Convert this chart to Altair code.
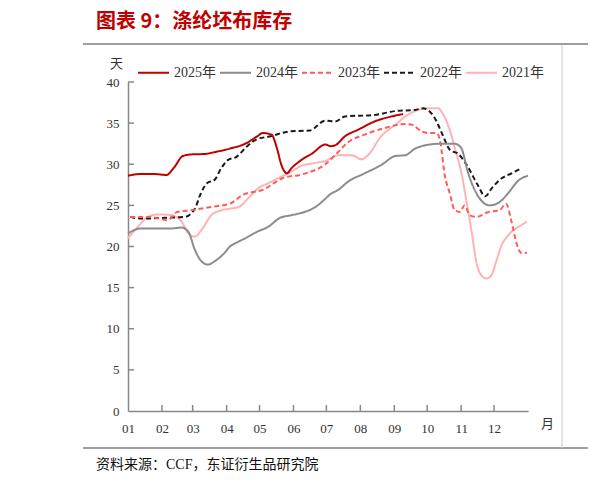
import altair as alt
import pandas as pd

# x values are day-of-year (0 = 1 Jan), y values are days of inventory
series = ["2025年", "2024年", "2023年", "2022年", "2021年"]
colors = ["#C00000", "#8C8C8C", "#FF5B5B", "#1A1A1A", "#FFB3B3"]
dashes = [[1, 0], [1, 0], [5, 3], [5, 3], [1, 0]]

month_starts = [0, 31, 59, 90, 120, 151, 181, 212, 243, 273, 304, 334]
y_ticks = [5, 10, 15, 20, 25, 30, 35, 40]

days_2025 = [0, 10, 25, 35, 42, 50, 58, 70, 80, 93, 107, 118, 123, 131, 136, 140, 145, 149, 158, 168,
             180, 185, 189, 198, 210, 225, 240, 251]
vals_2025 = [28.6, 28.8, 28.8, 28.7, 29.6, 31.0, 31.2, 31.25, 31.5, 31.9, 32.5, 33.4, 33.8, 33.6, 31.9, 29.9,
             28.9, 29.5, 30.5, 31.3, 32.4, 32.2, 32.3, 33.4, 34.2, 35.2, 35.8, 36.1]

days_2024 = [0, 12, 27, 40, 49, 55, 61, 67, 73, 79, 88, 93, 98, 107, 118, 128, 139, 149, 161, 171,
             180, 184, 192, 201, 216, 231, 244, 253, 262, 271, 286, 298, 304, 310, 317, 323, 330, 339,
             347, 356, 365]
vals_2024 = [21.6, 22.2, 22.2, 22.2, 22.3, 21.8, 19.6, 18.2, 17.8, 18.2, 19.2, 20.0, 20.4, 21.0, 21.8, 22.4,
             23.5, 23.8, 24.2, 24.8, 25.8, 26.3, 26.9, 27.9, 28.9, 29.9, 31.0, 31.1, 31.9, 32.3, 32.5, 32.5,
             32.0, 29.1, 26.7, 25.5, 25.0, 25.4, 26.5, 28.0, 28.6]

days_2023 = [2, 20, 36, 45, 57, 66, 81, 93, 105, 123, 141, 160, 180, 189, 201, 216, 234, 253, 259, 268,
             274, 282, 285, 289, 294, 298, 303, 307, 312, 318, 329, 339, 345, 350, 355, 359, 364]
vals_2023 = [23.6, 23.6, 23.2, 24.2, 24.4, 24.6, 24.9, 25.2, 26.3, 26.9, 28.3, 28.8, 30.0, 31.1, 32.7, 33.6,
             34.4, 34.9, 34.8, 34.0, 33.8, 33.8, 32.7, 28.7, 26.3, 24.4, 24.2, 25.0, 23.8, 23.6, 24.2, 24.4,
             25.2, 23.0, 20.2, 19.2, 19.25]

days_2022 = [2, 12, 37, 52, 61, 66, 72, 79, 85, 91, 99, 108, 117, 130, 148, 166, 180, 189, 198, 225,
             246, 262, 269, 280, 287, 294, 301, 310, 319, 326, 332, 341, 350, 359]
vals_2022 = [23.6, 23.4, 23.5, 23.6, 24.6, 26.3, 27.7, 28.1, 29.5, 30.5, 30.9, 32.1, 33.0, 33.4, 34.0, 34.1,
             35.3, 35.2, 35.8, 36.0, 36.5, 36.6, 36.8, 35.6, 33.6, 31.7, 31.3, 29.7, 27.5, 26.1, 27.1, 28.3,
             28.9, 29.5]

days_2021 = [0, 9, 18, 27, 40, 49, 55, 61, 67, 76, 85, 93, 101, 110, 119, 128, 140, 149, 158, 168,
             180, 192, 204, 213, 219, 231, 244, 255, 268, 276, 283, 287, 294, 298, 304, 309, 314, 318,
             323, 327, 332, 336, 341, 346, 350, 359, 364]
vals_2021 = [21.0, 22.4, 23.6, 23.9, 23.8, 23.0, 21.6, 21.2, 22.0, 23.8, 24.4, 24.6, 24.8, 25.9, 27.1, 27.7,
             28.5, 29.1, 29.8, 30.1, 30.4, 31.1, 31.1, 30.6, 31.1, 33.4, 34.8, 36.0, 36.7, 36.8, 36.8, 36.2,
             34.0, 32.1, 29.1, 25.4, 21.4, 18.0, 16.4, 16.1, 16.6, 18.2, 20.2, 21.2, 21.8, 22.6, 23.0]

TITLE = "图表 9：涤纶坯布库存"
SOURCE = "资料来源：CCF，东证衍生品研究院"

SERIF = "Liberation Serif, Noto Sans CJK SC"
SANS = "Noto Sans CJK SC"
AXIS = "#888888"
W, H = 400, 329


def _long():
    parts = [("2021年", days_2021, vals_2021), ("2022年", days_2022, vals_2022),
             ("2023年", days_2023, vals_2023), ("2024年", days_2024, vals_2024),
             ("2025年", days_2025, vals_2025)]
    rows = []
    for name, days, vals in parts:
        rows += [{"series": name, "day": d, "value": v} for d, v in zip(days, vals)]
    return pd.DataFrame(rows)


x_scale = alt.Scale(domain=[0, 365], nice=False, zero=False)
y_scale = alt.Scale(domain=[0, 40], nice=False)

x_axis = alt.Axis(values=month_starts, labelExpr="timeFormat(datetime(2021, 0, 1 + datum.value), '%m')",
                  tickSize=0, labelPadding=11, labelFlush=False, labelOverlap=False,
                  labelFont=SERIF, labelFontSize=13, labelColor="#333333",
                  domainColor=AXIS, domainWidth=1.5, grid=False,
                  title="月", titleAngle=0, titleX=419, titleY=12, titleAlign="center",
                  titleBaseline="middle", titleFont=SERIF, titleFontSize=13,
                  titleFontWeight="normal", titleColor="#333333")
y_axis = alt.Axis(values=[0] + y_ticks, tickSize=0, labelPadding=9,
                  labelFont=SERIF, labelFontSize=13, labelColor="#333333",
                  domainColor=AXIS, domainWidth=1.5, grid=False,
                  title="天", titleAngle=0, titleX=-12, titleY=-19, titleAlign="center",
                  titleBaseline="middle", titleFont=SERIF, titleFontSize=13,
                  titleFontWeight="normal", titleColor="#333333")

legend = alt.Legend(orient="none", legendX=9, legendY=-26, direction="horizontal", columns=5,
                    symbolType="stroke", symbolSize=961, symbolStrokeWidth=2,
                    labelFont=SERIF, labelFontSize=14, labelColor="#333333", labelOffset=4,
                    columnPadding=0, padding=0, title=None)

lines = alt.Chart(_long()).mark_line(interpolate="monotone", strokeWidth=2).encode(
    x=alt.X("day:Q", scale=x_scale, axis=x_axis),
    y=alt.Y("value:Q", scale=y_scale, axis=y_axis),
    color=alt.Color("series:N", scale=alt.Scale(domain=series, range=colors), legend=legend),
    strokeDash=alt.StrokeDash("series:N", scale=alt.Scale(domain=series, range=dashes), legend=legend),
)

# ticks point inward, so draw them as rules on the shared scales
ytick = alt.Chart(pd.DataFrame({"value": y_ticks})).mark_rule(color=AXIS, strokeWidth=1.5).encode(
    y=alt.Y("value:Q", scale=y_scale, axis=y_axis), x=alt.value(0), x2=alt.value(6))
xtick = alt.Chart(pd.DataFrame({"day": month_starts[1:]})).mark_rule(color=AXIS, strokeWidth=1.5).encode(
    x=alt.X("day:Q", scale=x_scale, axis=x_axis), y=alt.value(H), y2=alt.value(H - 6))

one = pd.DataFrame({"t": [0]})
top_rule = alt.Chart(one).mark_rule(color="#7F7F7F", strokeWidth=1.5).encode(
    x=alt.value(-45), x2=alt.value(470), y=alt.value(-38))
bottom_rule = alt.Chart(one).mark_rule(color="#7F7F7F", strokeWidth=1.5).encode(
    x=alt.value(-45), x2=alt.value(470), y=alt.value(366))
side_rule = alt.Chart(one).mark_rule(color="#C8C8C8", strokeWidth=1).encode(
    x=alt.value(434), y=alt.value(-37), y2=alt.value(366))

title = alt.Chart(pd.DataFrame({"t": [TITLE]})).mark_text(
    align="left", baseline="middle", font=SANS, fontSize=20, fontWeight="bold", color="#C00000"
).encode(text="t:N", x=alt.value(-32), y=alt.value(-60))
source = alt.Chart(pd.DataFrame({"t": [SOURCE]})).mark_text(
    align="left", baseline="middle", font=SERIF, fontSize=14, color="#111111"
).encode(text="t:N", x=alt.value(-32), y=alt.value(383))

chart = alt.layer(lines, ytick, xtick, top_rule, bottom_rule, side_rule, title, source).properties(
    width=W, height=H,
    autosize=alt.AutoSizeParams(type="none"),
    padding={"left": 120, "top": 74, "right": 60, "bottom": 65},
).configure_view(stroke=None)

chart.save("out.html", embed_options={"renderer": "svg", "actions": False})
